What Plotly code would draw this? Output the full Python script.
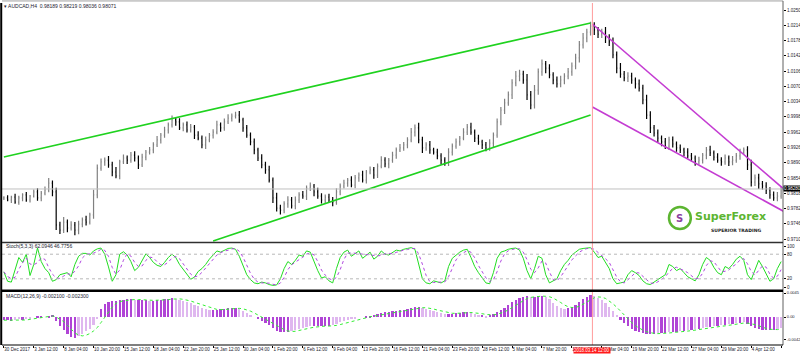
import plotly.graph_objects as go
import pandas as pd

# ---------------- data (price in pips, 1 pip = 0.0001), one value per 2 H4 bars ----------------
close_pips = [
    9807, 9802, 9809, 9797, 9807, 9814, 9802, 9811, 9821, 9807,
    9818, 9826, 9842, 9821, 9743, 9731, 9750, 9736, 9743, 9731,
    9745, 9755, 9750, 9767, 9814, 9877, 9892, 9896, 9885, 9868,
    9859, 9892, 9901, 9896, 9908, 9901, 9885, 9903, 9915, 9920,
    9932, 9944, 9955, 9967, 9979, 9991, 9986, 9972, 9979, 9967,
    9974, 9955, 9948, 9932, 9944, 9955, 9962, 9979, 9972, 9986,
    9995, 10000, 10002, 9991, 9972, 9955, 9939, 9920, 9901, 9885,
    9873, 9849, 9807, 9783, 9778, 9793, 9802, 9788, 9802, 9814,
    9811, 9830, 9835, 9821, 9811, 9802, 9809, 9802, 9797, 9821,
    9835, 9842, 9849, 9837, 9854, 9861, 9849, 9868, 9873, 9861,
    9882, 9896, 9887, 9896, 9908, 9920, 9925, 9932, 9944, 9962,
    9972, 9944, 9925, 9932, 9920, 9915, 9906, 9896, 9889, 9915,
    9929, 9939, 9948, 9962, 9974, 9962, 9948, 9939, 9932, 9925,
    9936, 9955, 9986, 10014, 10031, 10050, 10078, 10094, 10099, 10085,
    10050, 10026, 10061, 10104, 10123, 10113, 10097, 10085, 10076, 10085,
    10094, 10104, 10118, 10137, 10168, 10184, 10198, 10212, 10203, 10193,
    10198, 10184, 10175, 10144, 10113, 10099, 10090, 10094, 10085, 10076,
    10066, 10038, 10002, 9972, 9960, 9948, 9939, 9929, 9944, 9934,
    9925, 9920, 9915, 9906, 9901, 9892, 9896, 9908, 9920, 9913,
    9903, 9896, 9892, 9901, 9892, 9896, 9906, 9915, 9920, 9885,
    9844, 9854, 9840, 9835, 9826, 9814, 9807, 9811, 9828,
]

# upper / lower shadows beyond the bodies, in pips
wick_up_pips = [
    4, 6, 3, 8, 5, 4, 7, 3, 6, 9,
    5, 8, 12, 6, 10, 8, 12, 6, 9, 7,
    8, 6, 10, 5, 12, 9, 8, 6, 10, 7,
    12, 5, 8, 6, 7, 9, 6, 8, 5, 7,
    6, 9, 5, 8, 6, 10, 7, 9, 6, 8,
    7, 5, 9, 6, 8, 5, 7, 10, 6, 8,
    9, 6, 8, 10, 5, 7, 6, 8, 5, 9,
    7, 10, 6, 12, 8, 6, 9, 7, 8, 6,
    9, 6, 8, 5, 10, 7, 6, 8, 7, 9,
    6, 8, 5, 9, 7, 6, 10, 5, 8, 7,
    6, 9, 7, 5, 8, 6, 9, 7, 6, 10,
    8, 12, 7, 6, 9, 5, 8, 6, 7, 9,
    6, 8, 5, 9, 7, 10, 6, 8, 5, 7,
    9, 6, 8, 7, 10, 8, 9, 12, 10, 8,
    14, 9, 12, 8, 10, 7, 9, 6, 8, 10,
    7, 9, 8, 10, 9, 12, 8, 10, 9, 7,
    8, 12, 9, 10, 8, 12, 7, 9, 8, 6,
    10, 8, 12, 9, 7, 8, 6, 9, 7, 8,
    6, 8, 5, 9, 7, 6, 8, 5, 7, 10,
    6, 9, 7, 8, 6, 10, 7, 8, 6, 9,
    12, 8, 10, 7, 9, 6, 8, 10, 7,
]
wick_dn_pips = [
    5, 3, 7, 4, 6, 8, 4, 6, 3, 7,
    8, 5, 6, 10, 12, 9, 7, 10, 6, 12,
    10, 7, 8, 6, 9, 8, 6, 9, 7, 10,
    6, 8, 5, 9, 6, 8, 10, 5, 7, 6,
    8, 5, 9, 6, 8, 6, 9, 5, 8, 6,
    6, 9, 5, 8, 10, 6, 8, 5, 9, 7,
    5, 8, 6, 7, 9, 6, 8, 10, 7, 8,
    9, 6, 12, 8, 10, 7, 9, 6, 8, 7,
    6, 9, 7, 10, 6, 8, 9, 7, 10, 6,
    8, 6, 9, 5, 7, 9, 6, 8, 5, 9,
    7, 5, 8, 10, 6, 9, 5, 7, 8, 6,
    10, 8, 12, 7, 9, 6, 8, 10, 6, 7,
    8, 6, 9, 5, 7, 6, 9, 7, 10, 8,
    7, 10, 6, 8, 9, 7, 10, 8, 12, 9,
    12, 10, 8, 11, 9, 12, 8, 10, 9, 8,
    10, 7, 9, 8, 11, 9, 10, 8, 12, 9,
    9, 12, 10, 8, 12, 9, 8, 10, 9, 11,
    8, 10, 9, 12, 8, 9, 10, 7, 9, 8,
    9, 7, 10, 6, 8, 9, 6, 8, 10, 7,
    8, 6, 9, 7, 10, 8, 6, 9, 7, 12,
    10, 9, 12, 8, 10, 9, 7, 8, 6,
]

stoch_k = [
    37, 14, 12, 45, 72, 60, 80, 28, 55, 95,
    62, 45, 35, 14, 18, 30, 32, 35, 25, 55,
    75, 82, 82, 78, 88, 93, 95, 80, 49, 14,
    30, 80, 86, 78, 62, 40, 48, 66, 81, 72,
    60, 53, 50, 60, 72, 80, 72, 55, 43, 32,
    19, 24, 38, 45, 55, 68, 78, 88, 85, 90,
    94, 95, 92, 75, 52, 30, 18, 10, 8, 12,
    10, 6, 4, 5, 20, 45, 62, 55, 65, 78,
    75, 88, 85, 62, 40, 22, 25, 15, 10, 45,
    72, 85, 90, 75, 82, 88, 70, 78, 85, 68,
    75, 88, 80, 78, 85, 90, 88, 92, 94, 96,
    92, 55, 20, 10, 8, 15, 12, 10, 15, 50,
    70, 78, 85, 90, 92, 72, 50, 35, 22, 10,
    8, 35, 70, 85, 88, 92, 94, 95, 90, 70,
    40, 20, 45, 75, 70, 30, 10, 15, 20, 40,
    55, 65, 78, 85, 92, 94, 95, 96, 85, 72,
    75, 60, 45, 20, 8, 10, 12, 30, 40, 35,
    28, 15, 8, 6, 12, 20, 25, 30, 55, 50,
    40, 45, 35, 25, 20, 15, 30, 55, 72, 65,
    48, 35, 30, 50, 45, 55, 68, 75, 65, 30,
    18, 40, 65, 50, 30, 14, 20, 45, 62,
]

macd_pips = [
    -6, -6, -8, -6, -4, -6, -4,
    -2, 0, 2, 2, 0, 2, 4,
    -8, -17, -24,
    -32, -38, -39, -36, -32,
    -26, -22, -15, -4,
    15, 24, 28,
    30, 30, 32, 32, 34, 34, 32,
    32, 32, 32, 30, 30, 32, 32, 34, 34, 36,
    34, 32, 30, 28, 26, 22, 21, 17,
    15, 13, 13, 13, 15, 15, 17, 17, 17,
    15, 11, 8, 4, 0, -4, -8, -11,
    -15, -21, -26, -28, -28, -28, -26, -24, -22, -21,
    -19, -17, -17, -17, -17, -17, -17, -15, -13, -9,
    -8, -6, -4, -2, 0, 0, 2, 2, 4, 6,
    8, 9, 9, 11, 11, 13, 13, 15, 17, 19, 19, 17,
    15, 13, 11, 9, 8, 6, 6, 6, 8, 8, 9, 9, 8, 6, 4, 4, 2, 4, 6,
    9, 13, 17, 22, 28, 32, 36, 38, 40, 38, 38, 40, 40, 38, 34,
    26, 21, 17, 15, 17, 19,
    22, 28, 34, 38, 41, 39, 36, 32, 26, 19, 11, 4, -6, -11, -17, -22, -26, -28,
    -30, -32, -32, -32, -30, -30, -30, -28, -28, -28,
    -26, -26, -24, -24, -22, -22, -21, -19, -19, -17, -17, -15, -15, -13, -13, -11, -11, -9,
    -13, -17, -21, -22, -24, -24, -24, -24, -22, -21,
]

date_labels = [
    "30 Dec 2017", "3 Jan 12:00", "8 Jan 04:00", "10 Jan 20:00", "15 Jan 12:00",
    "18 Jan 04:00", "22 Jan 20:00", "25 Jan 12:00", "30 Jan 04:00", "1 Feb 20:00",
    "6 Feb 12:00", "9 Feb 04:00", "13 Feb 20:00", "16 Feb 12:00", "21 Feb 04:00",
    "23 Feb 20:00", "28 Feb 12:00", "5 Mar 04:00", "7 Mar 20:00", "12 Mar 12:00",
    "15 Mar 04:00", "19 Mar 20:00", "22 Mar 12:00", "27 Mar 04:00", "29 Mar 20:00",
    "4 Apr 12:00", "6 Apr 04:00",
]
bars_per_label = 16

price_labels = [
    "1.0250", "1.0214", "1.0178", "1.0142", "1.0106", "1.0070", "1.0034", "0.9998",
    "0.9962", "0.9926", "0.9890", "0.9854", "0.9818", "0.9782", "0.9746", "0.9710",
]
stoch_labels = ["100", "80", "20", "0"]
macd_labels = ["0.0045", "0.00", "-0.0042"]

# trend lines: (bar index, price)
green_upper = [(0, 0.99034), (314, 1.02194)]
green_lower = [(112, 0.97053), (314, 1.00024)]
magenta_upper = [(315, 1.02170), (418, 0.98256)]
magenta_lower = [(315, 1.00213), (418, 0.97737)]
marker_bar = 315
marker_text = "2018.03.14 12:00"
symbol_text = "AUDCAD,H4  0.98189 0.98219 0.98036 0.98071"
stoch_text = "Stoch(5,3,3) 62.0946 46.7756"

# ---------------- derived ----------------
n = len(close_pips)
x = [2 * i for i in range(n)]
close = [c / 10000 for c in close_pips]
opn = [close[0]] + close[:-1]
high = [max(o, c) + w / 10000 for o, c, w in zip(opn, close, wick_up_pips)]
low = [min(o, c) - w / 10000 for o, c, w in zip(opn, close, wick_dn_pips)]
stoch_d = pd.Series(stoch_k).rolling(3, min_periods=1).mean().tolist()
macd = [m / 10000 for m in macd_pips]
macd_sig = pd.Series(macd).rolling(5, min_periods=1).mean().tolist()
macd_cols = []
for i, m in enumerate(macd):
    prev = macd[i - 1] if i > 0 else 0
    macd_cols.append("#b044d6" if abs(m) >= abs(prev) else "#dfb7ef")

FONT = "Liberation Sans"
TXT = "#1a1a2e"
TF = dict(size=4.5, color=TXT, family=FONT)

fig = go.Figure()
fig.add_trace(go.Ohlc(
    x=x, open=opn, high=high, low=low, close=close, xaxis="x", yaxis="y",
    increasing=dict(line=dict(color="#808080", width=1.2)),
    decreasing=dict(line=dict(color="#000000", width=1.2)),
    tickwidth=0.2, showlegend=False, hoverinfo="skip"))

for pts, col in [(green_upper, "#1fd21f"), (green_lower, "#1fd21f"),
                 (magenta_upper, "#c43cd2"), (magenta_lower, "#c43cd2")]:
    fig.add_trace(go.Scatter(x=[p[0] for p in pts], y=[p[1] for p in pts], mode="lines",
                             line=dict(color=col, width=1.6), xaxis="x", yaxis="y",
                             showlegend=False, hoverinfo="skip"))

fig.add_trace(go.Scatter(x=x, y=stoch_k, mode="lines", line=dict(color="#22dd22", width=1),
                         xaxis="x", yaxis="y2", showlegend=False, hoverinfo="skip"))
fig.add_trace(go.Scatter(x=x, y=stoch_d, mode="lines", line=dict(color="#b048e0", width=1, dash="dot"),
                         xaxis="x", yaxis="y2", showlegend=False, hoverinfo="skip"))

fig.add_trace(go.Bar(x=x, y=macd, marker=dict(color=macd_cols, line=dict(width=0)), width=1.2,
                     xaxis="x", yaxis="y3", showlegend=False, hoverinfo="skip"))
fig.add_trace(go.Scatter(x=x, y=macd_sig, mode="lines", line=dict(color="#33ee33", width=1, dash="dot"),
                         xaxis="x", yaxis="y3", showlegend=False, hoverinfo="skip"))

main_lo, main_hi = 0.97030, 1.02665
yticks = [float(s) for s in price_labels]
yax_common = dict(side="right", anchor="x", automargin=False, showgrid=False, zeroline=False,
                  ticks="outside", ticklen=2, tickcolor="#000", fixedrange=True)

fig.update_layout(
    width=800, height=355,
    margin=dict(l=2, r=17, t=3, b=10, autoexpand=False),
    paper_bgcolor="white", plot_bgcolor="white",
    font=dict(family=FONT, size=5, color=TXT),
    bargap=0,
    xaxis=dict(range=[-1, 417], anchor="y3", showgrid=False, zeroline=False, automargin=False,
               tickvals=[bars_per_label * k for k in range(len(date_labels))], ticktext=date_labels,
               ticklabelposition="outside right", tickangle=0, ticks="outside", ticklen=2, tickcolor="#000",
               tickfont=TF, showline=False, rangeslider=dict(visible=False), fixedrange=True),
    yaxis=dict(domain=[0.3012, 1], range=[main_lo, main_hi], tickvals=yticks, ticktext=price_labels,
               tickfont=TF, **yax_common),
    yaxis2=dict(domain=[0.1608, 0.2982], range=[-7.3, 107.3], tickvals=[float(s) for s in stoch_labels],
                ticktext=stoch_labels, tickfont=TF, **yax_common),
    yaxis3=dict(domain=[0, 0.155], range=[-0.00525, 0.00469], tickvals=[float(s) for s in macd_labels],
                ticktext=macd_labels, tickfont=dict(size=4, color=TXT, family=FONT), **yax_common),
)

shapes = []
for lv in (80, 20):
    shapes.append(dict(type="line", xref="paper", x0=0, x1=1, yref="y2", y0=lv, y1=lv,
                       line=dict(color="#b8b8b8", width=1, dash="dot")))
shapes.append(dict(type="line", xref="paper", x0=0, x1=1, yref="y", y0=close[-1], y1=close[-1],
                   line=dict(color="#c0c0c0", width=1)))
shapes.append(dict(type="line", xref="x", x0=marker_bar, x1=marker_bar, yref="paper", y0=0, y1=1,
                   line=dict(color="#ff9c9c", width=1)))
shapes += [
    dict(type="line", xref="paper", x0=0, x1=1, yref="paper", y0=1.006, y1=1.006, line=dict(color="#a0a0a0", width=1)),
    dict(type="line", xref="paper", x0=-0.001, x1=-0.001, yref="paper", y0=0, y1=1, line=dict(color="#000", width=2)),
    dict(type="line", xref="paper", x0=1, x1=1, yref="paper", y0=0, y1=1.006, line=dict(color="#606060", width=1)),
    dict(type="line", xref="paper", x0=0, x1=1, yref="paper", y0=0, y1=0, line=dict(color="#000", width=1)),
    dict(type="line", xref="paper", x0=0, x1=1, yref="paper", y0=0.2997, y1=0.2997, line=dict(color="#303030", width=1.5)),
    dict(type="line", xref="paper", x0=0, x1=1, yref="paper", y0=0.1585, y1=0.1585, line=dict(color="#000", width=2.5)),
]
shapes.append(dict(type="circle", xref="paper", yref="paper", x0=0.854, x1=0.882, y0=0.339, y1=0.4035,
                   line=dict(color="#5cb531", width=2.5)))
fig.update_layout(shapes=shapes)

ann = [
    dict(text="▾ " + symbol_text, xref="paper", yref="paper", x=0.0, y=0.992, xanchor="left", yanchor="middle",
         showarrow=False, font=dict(size=5, color=TXT)),
    dict(text=stoch_text, xref="paper", yref="paper", x=0.002, y=0.29,
         xanchor="left", yanchor="middle", showarrow=False, font=dict(size=5, color=TXT)),
    dict(text=f"MACD(12,26,9) {macd[-1]:.6f} {macd_sig[-1]:.6f}", xref="paper", yref="paper", x=0.002, y=0.143,
         xanchor="left", yanchor="middle", showarrow=False, font=dict(size=5, color=TXT)),
    dict(text=f"{close[-1]:.5f}", xref="paper", yref="y", x=1.0, y=close[-1], xanchor="left", yanchor="middle",
         showarrow=False, bgcolor="#000", font=dict(size=4.5, color="#fff"), borderpad=0),
    dict(text=marker_text, xref="x", yref="paper", x=marker_bar, y=0, yshift=-5, xanchor="center", yanchor="middle",
         showarrow=False, bgcolor="#ff1a1a", font=dict(size=4.5, color="#fff"), borderpad=0),
    dict(text="<b>S</b>", xref="paper", yref="paper", x=0.868, y=0.371, xanchor="center", yanchor="middle",
         showarrow=False, font=dict(size=10, color="#8a3fa0", family="DejaVu Sans")),
    dict(text="<b>SuperForex</b>", xref="paper", yref="paper", x=0.8845, y=0.377, xanchor="left", yanchor="middle",
         showarrow=False, font=dict(size=11, color="#5cb531", family="DejaVu Sans")),
    dict(text="<b>SUPERIOR TRADING</b>", xref="paper", yref="paper", x=0.905, y=0.335, xanchor="left",
         yanchor="middle", showarrow=False, font=dict(size=4.5, color="#222", family="DejaVu Sans")),
]
fig.update_layout(annotations=ann)

fig.write_html("out.html")
